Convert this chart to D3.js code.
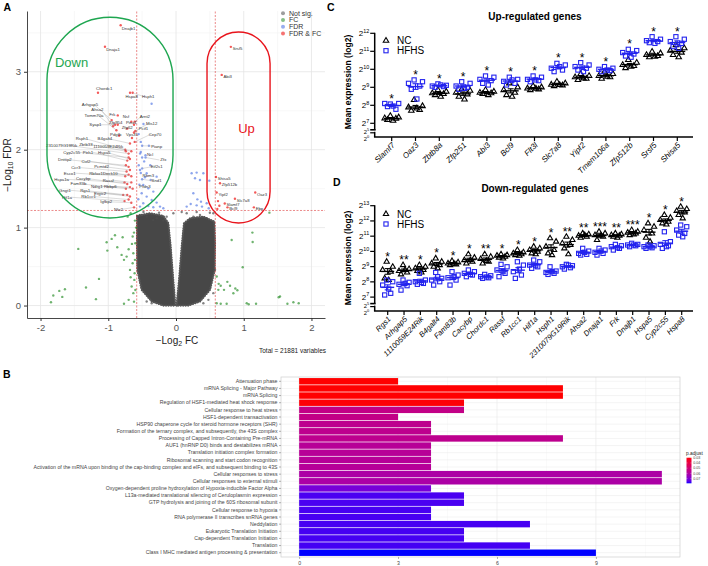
<!DOCTYPE html>
<html><head><meta charset="utf-8">
<script src="https://cdn.jsdelivr.net/npm/d3@7"></script>
<style>body{margin:0;background:#fff}svg{display:block;font-family:"Liberation Sans",Arial,Helvetica,sans-serif}</style>
</head><body><svg id="c" width="708" height="566"></svg>
<script>
// ================= DATA =================
// Panel A – volcano
const volcanoXTicks = [-2,-1,0,1,2];
const volcanoYTicks = [0,1,2,3];
const volcanoMinorX = [-1.5,-0.5,0.5,1.5];
const volcanoMinorY = [0.5,1.5,2.5,3.5];
const fcCut = 0.58, fdrCut = 1.22;
const volcanoLegend = ["Not sig.","FC","FDR","FDR & FC"];
// outline of the dense non-significant cloud (log2FC, -log10 FDR)
const cloudLeft = [[-0.575,1.15],[-0.384,1.184],[-0.187,1.15],[-0.113,1.056],[-0.079,0.757],[-0.044,0.372],[-0.010,0.0],[-0.187,0.0],[-0.359,0.052],[-0.507,0.201],[-0.571,0.458],[-0.576,0.80]];
const cloudRight = [[0.010,0.0],[0.049,0.372],[0.084,0.757],[0.118,1.056],[0.207,1.12],[0.404,1.141],[0.566,1.077],[0.576,0.80],[0.571,0.458],[0.502,0.201],[0.354,0.052],[0.182,0.0]];
const volcanoGrey = [[-0.532,1.163],[-0.433,1.141],[-0.335,1.099],[-0.286,1.12],[-0.187,1.09],[-0.138,1.141],[-0.039,1.184],[0.158,1.184],[0.256,1.141],[0.354,1.163],[0.453,1.12],[0.551,1.184],[0.305,1.2],[0.084,1.2],[-0.433,0.052],[-0.359,0.03],[0.404,0.03],[0.478,0.073],[0.551,0.159],[-0.556,0.458],[0.576,0.458],[-0.48,1.2],[0.5,1.19],[-0.25,1.19]];
const volcanoGreen = [[-1.846,0.043],[-1.812,0.128],[-1.723,0.188],[-1.679,0.111],[-1.640,0.209],[-1.443,0.727],[-1.329,0.231],[-1.182,0.082],[-1.137,0.342],[-1.014,0.705],[-1.024,0.812],[-0.950,0.855],[-0.901,0.902],[-0.867,0.748],[-0.788,0.876],[-0.803,0.650],[-0.768,0.586],[-0.729,0.628],[-0.699,0.722],[-0.679,0.457],[-0.670,0.363],[-0.655,0.244],[-0.630,0.159],[-0.768,0.022],[-0.699,0.073],[-0.650,0.791],[-0.640,0.543],[-0.620,0.936],[-0.606,1.09],[-0.714,1.141],[-0.670,1.184],[-0.630,0.671],[-0.611,0.415],[-0.606,0.586],[-0.615,0.329],[-0.640,0.885],[-0.601,0.799],[-0.62,0.05],[-0.6,0.2],[-0.59,1.0],
[0.601,0.372],[0.630,0.278],[0.660,0.253],[0.709,0.201],[0.758,0.304],[0.798,0.253],[0.822,0.842],[0.876,0.218],[0.906,0.197],[0.985,0.492],[1.044,0.030],[1.073,0.017],[1.128,0.936],[1.132,0.816],[1.182,0.022],[1.379,1.192],[1.516,0.107],[1.536,0.115],[1.645,0.022],[1.733,0.043],[1.812,0.030],[0.601,0.030],[0.660,0.022],[0.748,0.022],[0.847,0.158],[0.625,0.201]];
const volcanoBlue = [[0.231,1.697],[0.305,1.706],[0.404,1.697],[0.281,1.633],[0.354,1.612],[0.492,1.603],[0.256,1.441],[0.315,1.363],[0.369,1.333],[0.453,1.312],[0.384,1.270],[0.483,1.248],[0.217,1.304],[0.305,1.286],[0.158,1.270],
[-0.532,1.74],[-0.433,1.697],[-0.374,1.612],[-0.483,1.547],[-0.409,1.504],[-0.335,1.462],[-0.507,1.441],[-0.433,1.398],[-0.359,1.355],[-0.286,1.321],[-0.483,1.312],[-0.409,1.278],[-0.335,1.261],[-0.236,1.270],[-0.532,1.270],[-0.187,1.248],[-0.556,1.364],[-0.458,1.646],[-0.286,1.654],[-0.36,2.59],[-0.48,2.33],[-0.53,1.95],[-0.50,1.90],[-0.45,1.93],[-0.40,2.05],[-0.52,2.10],[-0.55,2.20],[-0.47,1.85],[-0.38,1.80],[-0.55,1.80]];
const volcanoBlueLabeled = [["Pianp",-0.50,2.05],["Ncl",-0.52,1.97],["Zfx",-0.45,1.90],["Eif2s1",-0.50,1.76],["Rbm3",-0.52,1.70],["Snd1",-0.50,1.62],["Pfdn3",-0.54,1.55]];
const blueLabelPos = [[-0.286,2.047],[-0.384,1.944],[-0.187,1.868],[-0.286,1.782],[-0.409,1.675],[-0.286,1.60],[-0.458,1.525]];
const volcanoDownRed = [["Dnajb1",-0.817,3.598],["Dnaja1",-1.049,3.321],["Chordc1",-1.152,2.731],["Hspa8",-0.679,2.731],["Hsph1",-0.640,2.731],["Arhgap5",-0.95,2.38],["Ahsa2",-0.93,2.30],["Tomm70a",-0.88,2.25],["Syap1",-0.90,2.32],["Frk",-0.86,2.44],["Nsf",-0.66,2.36],["Arnt2",-0.61,2.36],["Zfp954",-0.86,2.32],["Pinx1",-0.62,2.32],["Zfp62",-0.72,2.27],["Mis12",-0.60,2.24],["Pcif1",-0.62,2.22],["Pdgfb",-0.84,2.18],["Vps35",-0.65,2.15],["Cep70",-0.61,2.10],["Rsph1",-0.75,2.00],["B4galt4",-0.68,2.08],["Zbtb33",-0.74,1.98],["2310079G19Rik",-0.70,1.95],["1110059E24Rik",-0.66,1.98],["Cyp2c55",-0.70,1.90],["Ptrh1",-0.72,1.86],["Hspa5",-0.68,1.88],["Dnttip2",-0.74,1.80],["Cul2",-0.70,1.78],["Ccr3",-0.73,1.72],["Pcmtd2",-0.68,1.74],["Esco1",-0.75,1.66],["Rbfox1",-0.70,1.68],["Dock10",-0.66,1.66],["Hspa1a",-0.76,1.58],["Cacybp",-0.72,1.56],["Rassf",-0.66,1.58],["Fam83b",-0.74,1.50],["Ndrg1",-0.68,1.52],["Rbbp6",-0.64,1.50],["Gngt1",-0.78,1.42],["Rgs1",-0.72,1.42],["Ergic2",-0.68,1.40],["Hif1a",-0.76,1.34],["Rb1cc1",-0.70,1.36],["Igfbp2",-0.66,1.32],["Nfe2",-0.62,1.26]];
const downLabelPos = [[-0.70,3.55],[-0.93,3.28],[-1.06,2.78],[-0.655,2.68],[-0.41,2.68],[-1.27,2.58],[-1.16,2.51],[-1.21,2.44],[-1.19,2.32],[-0.94,2.45],[-0.74,2.43],[-0.46,2.42],[-0.89,2.35],[-0.66,2.35],[-0.72,2.28],[-0.36,2.33],[-0.48,2.27],[-0.89,2.20],[-0.65,2.19],[-0.31,2.20],[-1.39,2.14],[-1.05,2.14],[-1.33,2.07],[-1.69,2.06],[-1.00,2.04],[-1.54,1.97],[-1.30,1.97],[-1.06,1.96],[-1.64,1.87],[-1.33,1.85],[-1.48,1.77],[-1.10,1.78],[-1.57,1.70],[-1.18,1.70],[-0.97,1.70],[-1.69,1.62],[-1.37,1.63],[-1.00,1.61],[-1.44,1.56],[-1.17,1.53],[-0.97,1.53],[-1.64,1.48],[-1.34,1.47],[-1.12,1.44],[-1.61,1.39],[-1.29,1.40],[-1.03,1.33],[-0.85,1.235]];
const volcanoUpRed = [["Srsf5",0.81,3.32],["Abi3",0.675,2.96],["Shisa5",0.59,1.65],["Zfp512b",0.65,1.57],["Yipf2",0.60,1.45],["Slc7a8",0.87,1.37],["Oaz3",1.17,1.45],["Slamf7",0.72,1.31],["Bcl9",0.76,1.26],["Ebp",1.15,1.26],["Flt3l",0.62,1.34],["Zbtb8a",0.64,1.28],["Tmem106a",0.61,1.24]];
const upLabelCount = 10;
const totalVariables = 21881;
const downBox = {x0:-1.905,x1:-0.044,y0:1.124,y1:3.70,label:"Down"};
const upBox = {x0:0.458,x1:1.389,y0:1.06,y1:3.51,label:"Up"};

// Panel B – pathway enrichment
const pathways = ["Attenuation phase","mRNA Splicing - Major Pathway","mRNA Splicing","Regulation of HSF1-mediated heat shock response","Cellular response to heat stress","HSF1-dependent transactivation","HSP90 chaperone cycle for steroid hormone receptors (SHR)","Formation of the ternary complex, and subsequently, the 43S complex","Processing of Capped Intron-Containing Pre-mRNA","AUF1 (hnRNP D0) binds and destabilizes mRNA","Translation initiation complex formation","Ribosomal scanning and start codon recognition","Activation of the mRNA upon binding of the cap-binding complex and eIFs, and subsequent binding to 43S","Cellular responses to stress","Cellular responses to external stimuli","Oxygen-dependent proline hydroxylation of Hypoxia-inducible Factor Alpha","L13a-mediated translational silencing of Ceruloplasmin expression","GTP hydrolysis and joining of the 60S ribosomal subunit","Cellular response to hypoxia","RNA polymerase II transcribes snRNA genes","Neddylation","Eukaryotic Translation Initiation","Cap-dependent Translation Initiation","Translation","Class I MHC mediated antigen processing & presentation"];
const pathwayCounts = [3,8,8,5,5,3,4,4,8,4,4,4,4,11,11,4,5,5,4,4,7,5,5,7,9];
const pathwayPadj = [0.0299,0.0300,0.0300,0.0305,0.0540,0.0540,0.0556,0.0556,0.0558,0.0576,0.0576,0.0577,0.0578,0.0605,0.0606,0.0710,0.0762,0.0762,0.0763,0.0763,0.0764,0.0765,0.0765,0.0766,0.0790];
const barTicks = [0,3,6,9];
const barMinor = [1.5,4.5,7.5,10.5];
const padjTicks = [0.03,0.04,0.05,0.06,0.07];

// Panel C – up-regulated genes (log2 expression)
const upGenes = ["Slamf7","Oaz3","Zbtb8a","Zfp251","Abi3","Bcl9","Flt3l","Slc7a8","Yipf2","Tmem106a","Zfp512b","Srsf5","Shisa5"];
const upNC = [[7.41,7.33,7.28,7.26,7.19,7.15],[8.30,7.96,7.89,7.74,7.70,7.83],[8.85,8.76,8.67,8.63,8.57,8.48],[8.89,8.81,8.70,8.61,8.48,8.33],[8.85,8.76,8.70,8.67,8.63,8.57],[9.22,9.00,8.85,8.70,8.57,8.48],[9.07,9.00,8.94,8.89,8.85,8.93],[9.31,9.22,9.15,9.11,9.07,9.13],[9.74,9.63,9.56,9.48,9.41,9.50],[9.87,9.74,9.63,9.56,9.48,9.59],[10.52,10.37,10.24,10.19,10.07,10.15],[10.98,10.89,10.80,10.74,10.67,10.70],[11.35,11.17,11.04,10.93,10.80,10.67]];
const upHFHS = [[8.07,8.10,8.10,7.78,7.93,7.96],[9.41,9.31,9.22,9.07,8.89,8.35],[9.19,9.11,9.07,9.04,9.00,9.13],[9.31,9.22,9.07,9.00,8.89,8.94],[9.63,9.56,9.44,9.37,9.22,9.13],[9.56,9.44,9.33,9.22,9.13,9.41],[9.63,9.56,9.44,9.37,9.31,9.41],[10.33,10.24,10.06,9.96,9.87,10.15],[10.37,10.24,10.15,10.06,9.96,9.87],[10.15,10.06,10.00,9.93,9.87,9.96],[11.11,11.04,10.93,10.85,10.74,10.67],[11.81,11.67,11.59,11.54,11.48,11.44],[11.81,11.67,11.54,11.44,11.26,11.17]];
const upStars = ["*","*","*","*","*","*","*","*","*","*","*","*","*"];

// Panel D – down-regulated genes
const downGenes = ["Rgs1","Arhgap5","1110059E24Rik","B4galt4","Fam83b","Cacybp","Chordc1","Rassf","Rb1cc1","Hif1a","Hsph1","2310079G19Rik","Ahsa2","Dnaja1","Frk","Dnajb1","Hspa5","Cyp2c55","Hspa8"];
const downNC = [[9.32,8.99,8.78,8.67,8.23,8.12],[9.10,8.84,8.71,8.62,8.49,8.78],[9.10,8.99,8.89,8.78,8.71,8.62],[9.54,9.32,9.21,9.10,8.99,8.89],[9.37,9.28,9.21,9.15,9.10,9.19],[9.81,9.59,9.43,9.32,9.21,9.43],[9.81,9.65,9.50,9.32,9.21,9.37],[9.81,9.76,9.72,9.65,9.59,9.54],[10.09,9.94,9.87,9.81,9.76,9.72],[10.31,10.20,10.09,9.98,9.87,9.81],[10.86,10.64,10.31,10.09,9.87,9.76],[10.96,10.75,10.53,10.42,10.20,9.81],[11.18,11.12,11.03,10.96,10.90,11.07],[11.29,11.18,11.07,10.96,10.75,11.03],[11.18,11.12,11.07,11.03,10.96,10.90],[11.40,11.29,11.23,11.18,11.07,11.12],[11.84,11.62,11.40,11.18,10.90,10.64],[12.39,12.21,12.06,11.95,11.84,11.77],[12.93,12.78,12.65,12.56,12.39,12.17]];
const downHFHS = [[8.12,8.01,7.79,7.25,7.14,7.53],[8.12,7.97,7.84,7.75,7.46,7.90],[8.56,8.12,8.01,7.90,7.84,7.97],[8.62,8.23,8.12,8.01,7.79,8.34],[8.67,8.45,8.27,8.12,7.79,8.34],[8.78,8.67,8.56,8.45,8.34,8.49],[8.49,8.40,8.34,8.27,8.23,8.32],[9.15,8.99,8.78,8.56,8.34,8.67],[9.32,9.10,8.67,8.45,8.23,8.84],[9.43,9.32,9.10,8.99,8.89,9.06],[8.99,8.71,8.62,8.56,8.49,8.67],[9.15,9.06,8.99,8.93,8.84,9.10],[10.20,10.02,9.87,9.81,9.76,9.94],[10.20,10.09,9.94,9.87,9.76,10.02],[10.46,10.37,10.31,10.20,10.09,10.24],[10.53,10.46,10.42,10.37,10.31,10.42],[10.42,10.37,10.31,10.24,10.20,10.31],[11.29,10.64,10.46,10.37,10.20,10.31],[11.73,11.62,11.40,11.18,11.07,10.96]];
const downStars = ["*","**","*","*","*","*","**","*","*","*","*","**","**","***","**","***","*","*","*"];
const groupNames = ["NC","HFHS"];

// ================= DRAWING =================
const svg = d3.select("#c");

function letter(t,x,y){svg.append("text").attr("x",x).attr("y",y).attr("font-size",10.5).attr("font-weight","bold").text(t);}

// ---------- Panel A ----------
(function(){
  const g = svg.append("g");
  const x = d3.scaleLinear().domain([-2.2,2.2]).range([27,325]);
  const y = d3.scaleLinear().domain([-0.16,3.78]).range([318,11]);
  const [yb,yt]=y.range(), [xl,xr]=x.range();
  g.selectAll(".mnx").data(volcanoMinorX).join("line").attr("x1",d=>x(d)).attr("x2",d=>x(d)).attr("y1",yb).attr("y2",yt).attr("stroke","#f3f3f3").attr("stroke-width",0.6);
  g.selectAll(".mny").data(volcanoMinorY).join("line").attr("y1",d=>y(d)).attr("y2",d=>y(d)).attr("x1",xl).attr("x2",xr).attr("stroke","#f3f3f3").attr("stroke-width",0.6);
  g.selectAll(".mjx").data(volcanoXTicks).join("line").attr("x1",d=>x(d)).attr("x2",d=>x(d)).attr("y1",yb).attr("y2",yt).attr("stroke","#e5e5e5").attr("stroke-width",0.8);
  g.selectAll(".mjy").data(volcanoYTicks).join("line").attr("y1",d=>y(d)).attr("y2",d=>y(d)).attr("x1",xl).attr("x2",xr).attr("stroke","#e5e5e5").attr("stroke-width",0.8);

  const line = d3.line().x(d=>x(d[0])).y(d=>y(d[1])).curve(d3.curveLinearClosed);
  [cloudLeft,cloudRight].forEach(c=>{
    g.append("path").attr("d",line(c)).attr("fill","#474747").attr("stroke","#474747").attr("stroke-width",0.8).attr("stroke-linejoin","round");
    g.append("path").attr("d",line(c)).attr("fill","none").attr("stroke","#555").attr("stroke-width",2.2).attr("stroke-linecap","round").attr("stroke-dasharray","0.1 2.4");
  });
  const pts=(data,col,op)=>g.append("g").selectAll("circle").data(data).join("circle").attr("cx",d=>x(d[0])).attr("cy",d=>y(d[1])).attr("r",1.2).attr("fill",col).attr("fill-opacity",op);
  pts(volcanoGrey,"#4d4d4d",0.7);
  pts(volcanoGreen,"#228B22",0.65);
  pts(volcanoBlue,"#4169E1",0.6);
  g.append("g").selectAll("circle").data(volcanoBlueLabeled).join("circle").attr("cx",d=>x(d[1])).attr("cy",d=>y(d[2])).attr("r",1.2).attr("fill","#4169E1").attr("fill-opacity",0.6);
  g.append("g").selectAll("circle").data(volcanoDownRed.concat(volcanoUpRed)).join("circle").attr("cx",d=>x(d[1])).attr("cy",d=>y(d[2])).attr("r",1.2).attr("fill","#EE0000").attr("fill-opacity",0.65);

  // cutoff lines
  [-fcCut,fcCut].forEach(v=>g.append("line").attr("x1",x(v)).attr("x2",x(v)).attr("y1",yb).attr("y2",yt).attr("stroke","#dd3b3b").attr("stroke-width",0.6).attr("stroke-dasharray","2 1.5"));
  g.append("line").attr("x1",xl).attr("x2",xr).attr("y1",y(fdrCut)).attr("y2",y(fdrCut)).attr("stroke","#dd3b3b").attr("stroke-width",0.6).attr("stroke-dasharray","2 1.5");

  // labels with connectors
  const lab = (data,pos)=>{
    data.forEach((d,i)=>{
      const px=x(d[1]),py=y(d[2]),lx=x(pos[i][0]),ly=y(pos[i][1]);
      if(Math.hypot(px-lx,py-ly)>10){
        g.append("line").attr("x1",px).attr("y1",py).attr("x2",lx+(px>lx?4:-4)).attr("y2",ly).attr("stroke","#9a9a9a").attr("stroke-width",0.35);
      }
    });
    data.forEach((d,i)=>{
      g.append("text").attr("x",x(pos[i][0])).attr("y",y(pos[i][1])).attr("dy","0.35em").attr("text-anchor","middle").attr("font-size",4.3).attr("fill","#333").text(d[0]);
    });
  };
  lab(volcanoDownRed,downLabelPos);
  lab(volcanoBlueLabeled,blueLabelPos);
  volcanoUpRed.slice(0,upLabelCount).forEach(d=>{
    g.append("text").attr("x",x(d[1])+1.8).attr("y",y(d[2])+3).attr("font-size",4.2).attr("fill","#333").text(d[0]);
  });

  // annotation boxes
  [[downBox,"#1ea650"],[upBox,"#e8141c"]].forEach(([b,c])=>{
    const w=x(b.x1)-x(b.x0);
    g.append("rect").attr("x",x(b.x0)).attr("y",y(b.y1)).attr("width",w).attr("height",y(b.y0)-y(b.y1)).attr("rx",w/2).attr("ry",w/2).attr("fill","none").attr("stroke",c).attr("stroke-width",1.4);
  });
  g.append("text").attr("x",x(downBox.x0)+8).attr("y",67).attr("font-size",13).attr("fill","#1ea650").text(downBox.label);
  g.append("text").attr("x",(x(upBox.x0)+x(upBox.x1))/2+8).attr("y",133).attr("text-anchor","middle").attr("font-size",13).attr("fill","#e8141c").text(upBox.label);

  // axes
  const ax = g.append("g").attr("transform",`translate(0,${yb})`).call(d3.axisBottom(x).tickValues(volcanoXTicks).tickSize(3).tickSizeOuter(0).tickFormat(d=>String(d)));
  const ay = g.append("g").attr("transform",`translate(${xl},0)`).call(d3.axisLeft(y).tickValues(volcanoYTicks).tickSize(3).tickSizeOuter(0).tickFormat(d=>String(d)));
  [ax,ay].forEach(a=>{a.select(".domain").attr("stroke","#333").attr("stroke-width",0.9);a.selectAll(".tick line").attr("stroke","#333");a.selectAll("text").attr("font-size",9.5).attr("fill","#555").attr("font-family",null);});
  const xt=g.append("text").attr("x",177).attr("y",344).attr("text-anchor","middle").attr("font-size",10).attr("fill","#222");
  xt.append("tspan").text("\u2212Log");xt.append("tspan").attr("dy",2).attr("font-size",7).text("2");xt.append("tspan").attr("dy",-2).text(" FC");
  const yt2=g.append("text").attr("transform","translate(11,165) rotate(-90)").attr("text-anchor","middle").attr("font-size",10).attr("fill","#222");
  yt2.append("tspan").text("\u2212Log");yt2.append("tspan").attr("dy",2).attr("font-size",7).text("10");yt2.append("tspan").attr("dy",-2).text(" FDR");
  g.append("text").attr("x",326).attr("y",352.5).attr("text-anchor","end").attr("font-size",6.5).attr("fill","#222").text(`Total = ${totalVariables} variables`);
  // legend
  const lc=["#4d4d4d","#228B22","#4169E1","#EE0000"];
  volcanoLegend.forEach((t,i)=>{
    g.append("circle").attr("cx",283).attr("cy",13.3+i*6.7).attr("r",2).attr("fill",lc[i]).attr("fill-opacity",0.55);
    g.append("text").attr("x",289).attr("y",13.3+i*6.7).attr("dy","0.35em").attr("font-size",7).attr("fill","#333").text(t);
  });
})();
letter("A",3.5,10.5);

// ---------- Panel B ----------
(function(){
  const g = svg.append("g");
  const x = d3.scaleLinear().domain([-0.55,11.55]).range([281,680]);
  const y = d3.scaleBand().domain(pathways).range([377,557]).paddingInner(0.1).paddingOuter(0.15);
  const col = d3.scaleSequential(d3.interpolateLab("#ff0000","#0000ff")).domain([0.0299,0.0790]);
  const [yt,yb]=[377,557];
  g.selectAll(".mn").data(barMinor).join("line").attr("x1",d=>x(d)).attr("x2",d=>x(d)).attr("y1",yt).attr("y2",yb).attr("stroke","#f4f4f4").attr("stroke-width",0.5);
  g.selectAll(".mj").data(barTicks).join("line").attr("x1",d=>x(d)).attr("x2",d=>x(d)).attr("y1",yt).attr("y2",yb).attr("stroke","#e8e8e8").attr("stroke-width",0.6);
  g.selectAll(".hy").data(pathways).join("line").attr("x1",281).attr("x2",680).attr("y1",d=>y(d)+y.bandwidth()/2).attr("y2",d=>y(d)+y.bandwidth()/2).attr("stroke","#e8e8e8").attr("stroke-width",0.5);
  g.selectAll("rect.bar").data(pathways).join("rect").attr("class","bar")
    .attr("x",x(0)).attr("y",d=>y(d)).attr("height",y.bandwidth())
    .attr("width",(d,i)=>x(pathwayCounts[i])-x(0)).attr("fill",(d,i)=>col(pathwayPadj[i]));
  g.append("rect").attr("x",281).attr("y",yt).attr("width",399).attr("height",yb-yt).attr("fill","none").attr("stroke","#cfcfcf").attr("stroke-width",0.7);
  const ay=g.append("g").attr("transform","translate(281,0)").call(d3.axisLeft(y).tickSize(2).tickPadding(1.5).tickSizeOuter(0));
  const ax=g.append("g").attr("transform",`translate(0,${yb})`).call(d3.axisBottom(x).tickValues(barTicks).tickSize(2).tickPadding(2).tickSizeOuter(0));
  [ax,ay].forEach(a=>{a.select(".domain").remove();a.selectAll(".tick line").attr("stroke","#666").attr("stroke-width",0.5);a.selectAll("text").attr("font-size",5.2).attr("fill","#444").attr("font-family",null);});
  // colourbar legend
  const ly=d3.scaleLinear().domain([0.0299,0.0790]).range([457.7,483.3]);
  const defs=svg.append("defs");
  const gr=defs.append("linearGradient").attr("id","padj").attr("x1",0).attr("x2",0).attr("y1",0).attr("y2",1);
  d3.range(0,1.0001,0.05).forEach(t=>gr.append("stop").attr("offset",t).attr("stop-color",col(0.0299+t*(0.0790-0.0299))));
  g.append("rect").attr("x",686.5).attr("y",ly.range()[0]).attr("width",5).attr("height",ly.range()[1]-ly.range()[0]).attr("fill","url(#padj)");
  padjTicks.forEach(v=>{
    g.append("line").attr("x1",686.5).attr("x2",687.5).attr("y1",ly(v)).attr("y2",ly(v)).attr("stroke","#fff").attr("stroke-width",0.4);
    g.append("line").attr("x1",690.5).attr("x2",691.5).attr("y1",ly(v)).attr("y2",ly(v)).attr("stroke","#fff").attr("stroke-width",0.4);
    g.append("text").attr("x",693.3).attr("y",ly(v)).attr("dy","0.35em").attr("font-size",3.6).attr("fill","#444").text(v.toFixed(2));
  });
  g.append("text").attr("x",686).attr("y",455).attr("font-size",4.8).attr("fill","#222").text("p.adjust");
})();
letter("B",3,378);

// ---------- Panels C & D ----------
function dotPanel(cats,nc,hf,stars,o){
  const g=svg.append("g");
  const x=d3.scalePoint().domain(cats).range(o.xr);
  const y=d3.scaleLinear().domain([7,o.top]).range([o.y7,o.yTop]);
  const blue="#2323ee";
  // axes
  g.append("line").attr("x1",o.ax).attr("x2",o.ax).attr("y1",o.yTop-0.5).attr("y2",o.y7+6).attr("stroke","#000").attr("stroke-width",1.5);
  g.append("line").attr("x1",o.ax-4.5).attr("x2",o.ax+1).attr("y1",o.y7+6.5).attr("y2",o.y7+6.5).attr("stroke","#000").attr("stroke-width",1.6);
  g.append("line").attr("x1",o.ax).attr("x2",o.ax).attr("y1",o.y7+8.5).attr("y2",o.axisY).attr("stroke","#000").attr("stroke-width",1.5);
  g.append("line").attr("x1",o.ax-4.5).attr("x2",o.ax).attr("y1",o.y7+9.5).attr("y2",o.y7+9.5).attr("stroke","#000").attr("stroke-width",1.2);
  g.append("line").attr("x1",o.ax-0.75).attr("x2",o.axEnd).attr("y1",o.axisY).attr("y2",o.axisY).attr("stroke","#000").attr("stroke-width",1.5);
  const yTicks=d3.range(7,o.top+1);
  const tickLab=(v,yy,fs)=>{const t=g.append("text").attr("x",o.ax-5.5).attr("y",yy).attr("dy","0.33em").attr("text-anchor","end").attr("font-size",fs).text("2");t.append("tspan").attr("dy",-fs*0.42).attr("font-size",fs*0.68).text(v);};
  yTicks.forEach(v=>{g.append("line").attr("x1",o.ax-4.5).attr("x2",o.ax).attr("y1",y(v)).attr("y2",y(v)).attr("stroke","#000").attr("stroke-width",1.2);tickLab(v,y(v),8);});
  tickLab(5,o.y7+8.6,5.8);tickLab(0,o.axisY+1.6,5.8);
  cats.forEach(c=>{
    g.append("line").attr("x1",x(c)).attr("x2",x(c)).attr("y1",o.axisY).attr("y2",o.axisY+4).attr("stroke","#000").attr("stroke-width",1.2);
    g.append("text").attr("transform",`translate(${x(c)+2},${o.axisY+7}) rotate(-45)`).attr("text-anchor","end").attr("dy","0.3em").attr("font-size",o.fs).attr("font-style","italic").text(c);
  });
  const jit=[-1.4,7,-7,4.2,-4.2,1.4].map(v=>v*o.spread);
  const tri=d3.symbol(d3.symbolTriangle,o.tri);
  cats.forEach((c,i)=>{
    const cx=x(c);
    [[nc[i],"#000","tri"],[hf[i],blue,"sq"]].forEach(([vals,color,shape])=>{
      vals.forEach((v,j)=>{
        if(shape==="tri") g.append("path").attr("d",tri()).attr("transform",`translate(${cx+jit[j]},${y(v)})`).attr("fill","none").attr("stroke",color).attr("stroke-width",1.1);
        else g.append("rect").attr("x",cx+jit[j]-o.sq/2).attr("y",y(v)-o.sq/2).attr("width",o.sq).attr("height",o.sq).attr("fill","none").attr("stroke",color).attr("stroke-width",1.1);
      });
      const m=d3.mean(vals), se=d3.deviation(vals)/Math.sqrt(vals.length);
      g.append("line").attr("x1",cx-o.mw).attr("x2",cx+o.mw).attr("y1",y(m)).attr("y2",y(m)).attr("stroke",color).attr("stroke-width",1.4);
      g.append("line").attr("x1",cx).attr("x2",cx).attr("y1",y(m-se)).attr("y2",y(m+se)).attr("stroke",color).attr("stroke-width",1.1);
      [m-se,m+se].forEach(e=>g.append("line").attr("x1",cx-3).attr("x2",cx+3).attr("y1",y(e)).attr("y2",y(e)).attr("stroke",color).attr("stroke-width",1.1));
    });
    const mx=d3.max(nc[i].concat(hf[i]));
    g.append("text").attr("x",cx).attr("y",y(mx)-1).attr("text-anchor","middle").attr("font-size",12).text(stars[i]);
  });
  // legend
  g.append("path").attr("d",tri()).attr("transform",`translate(386,${o.legY})`).attr("fill","none").attr("stroke","#000").attr("stroke-width",1.1);
  g.append("rect").attr("x",386-o.sq/2).attr("y",o.legY+10-o.sq/2).attr("width",o.sq).attr("height",o.sq).attr("fill","none").attr("stroke",blue).attr("stroke-width",1.1);
  g.append("text").attr("x",397).attr("y",o.legY).attr("dy","0.35em").attr("font-size",10).text(groupNames[0]);
  g.append("text").attr("x",397).attr("y",o.legY+10).attr("dy","0.35em").attr("font-size",10).text(groupNames[1]);
  g.append("text").attr("x",535).attr("y",o.titleY).attr("text-anchor","middle").attr("font-size",10).attr("font-weight","bold").text(o.title);
  g.append("text").attr("transform",`translate(351,${o.labY}) rotate(-90)`).attr("text-anchor","middle").attr("font-size",8.5).attr("font-weight","bold").text("Mean expression (log2)");
}
dotPanel(upGenes,upNC,upHFHS,upStars,{xr:[391.7,677.3],ax:374.7,axEnd:693,top:12,y7:123.3,yTop:33.3,axisY:137,spread:1,mw:8,tri:13,sq:4.2,fs:8,legY:40.7,titleY:19.5,labY:82,title:"Up-regulated genes"});
dotPanel(downGenes,downNC,downHFHS,downStars,{xr:[387.7,681.7],ax:374.7,axEnd:693,top:13,y7:297.1,yTop:205.7,axisY:311,spread:0.72,mw:6.5,tri:12,sq:4.2,fs:7.6,legY:214,titleY:192,labY:258,title:"Down-regulated genes"});
letter("C",327,11);
letter("D",333,185.5);
</script></body></html>
